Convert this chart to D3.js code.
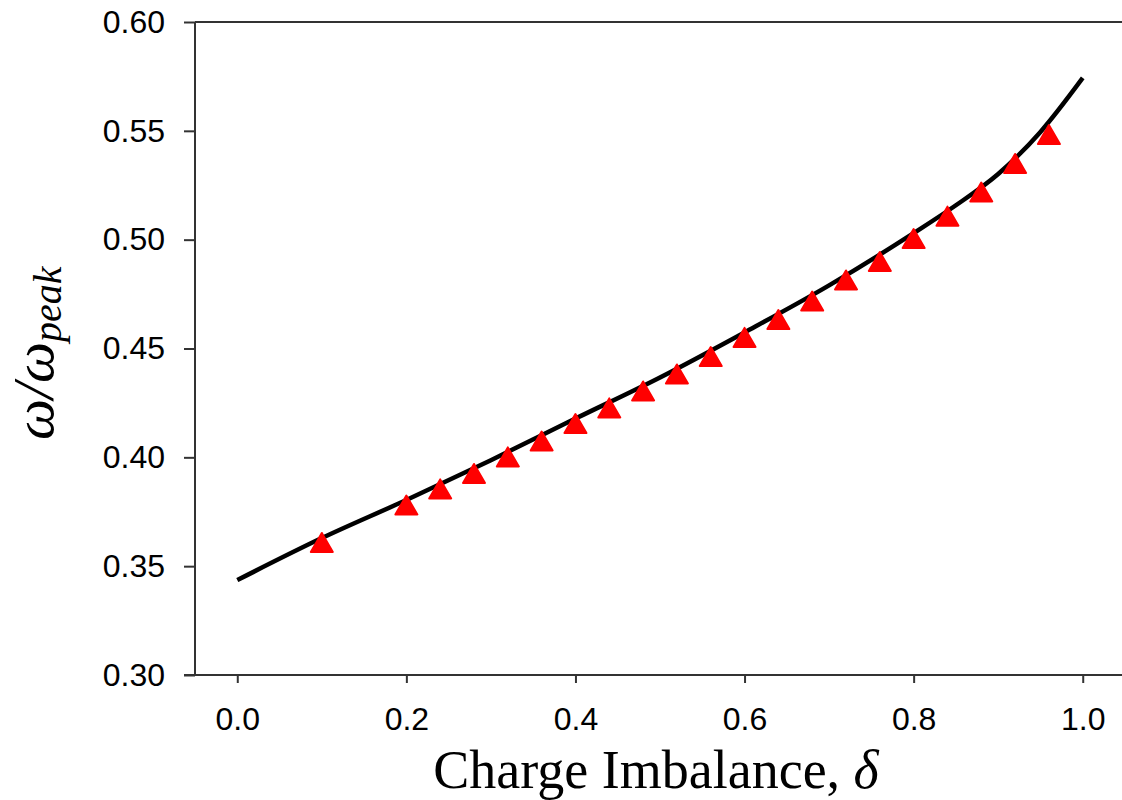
<!DOCTYPE html>
<html>
<head>
  <title>Charge Imbalance</title>
  <script src="https://d3js.org/d3.v7.min.js"></script>
  <style>
    body { margin: 0; background: #fff; }
  </style>
</head>
<body>
  <div id="chart"></div>

  <script>
    // data
    const curveDelta = [0, 0.1, 0.2, 0.3, 0.4, 0.5, 0.6, 0.7, 0.8, 0.85, 0.9, 0.95, 1.0];
    const curveRatio = [0.3436, 0.3629, 0.3804, 0.3987, 0.4178, 0.4367, 0.4574, 0.479, 0.503, 0.5158, 0.5302, 0.5495, 0.5743];

    const pointDelta = [0.1, 0.2, 0.24, 0.28, 0.32, 0.36, 0.40, 0.44, 0.48, 0.52, 0.56,
                        0.60, 0.64, 0.68, 0.72, 0.76, 0.80, 0.84, 0.88, 0.92, 0.96];
    const pointRatio = [0.3609, 0.3781, 0.3855, 0.3926, 0.4002, 0.4075, 0.4155, 0.4227, 0.4305, 0.4383, 0.4463,
                        0.4551, 0.4633, 0.4718, 0.4815, 0.4900, 0.5005, 0.5108, 0.5219, 0.5350, 0.5483];

    const xTicks = [0.0, 0.2, 0.4, 0.6, 0.8, 1.0];
    const yTicks = [0.30, 0.35, 0.40, 0.45, 0.50, 0.55, 0.60];

    const width = 1122, height = 800;

    const svg = d3.select('#chart')
      .append('svg')
      .attr('width', width)
      .attr('height', height);

    // scales
    const x = d3.scaleLinear().domain([-0.05, 1.05]).range([195, 1125]);
    const y = d3.scaleLinear().domain([0.30, 0.60]).range([675, 22]);

    const axisColor = '#333';

    // frame: left and top lines
    svg.append('line')
      .attr('x1', x(-0.05)).attr('x2', x(-0.05))
      .attr('y1', y(0.30)).attr('y2', y(0.60))
      .attr('stroke', axisColor).attr('stroke-width', 2);
    svg.append('line')
      .attr('x1', x(-0.05)).attr('x2', x(1.05))
      .attr('y1', y(0.60)).attr('y2', y(0.60))
      .attr('stroke', axisColor).attr('stroke-width', 2);

    // y axis
    const yAxis = svg.append('g')
      .attr('transform', `translate(${x(-0.05)},0)`)
      .call(d3.axisLeft(y).tickValues(yTicks).tickFormat(d3.format('.2f')).tickSize(11).tickPadding(19));
    yAxis.select('.domain').remove();
    yAxis.selectAll('.tick line').attr('stroke', axisColor).attr('stroke-width', 2);
    yAxis.selectAll('.tick text')
      .attr('font-family', 'Liberation Sans, Arial, sans-serif')
      .attr('font-size', 32)
      .attr('fill', '#000');

    // x axis
    const xAxis = svg.append('g')
      .attr('transform', `translate(0,${y(0.30)})`)
      .call(d3.axisBottom(x).tickValues(xTicks).tickFormat(d3.format('.1f')).tickSize(8).tickPadding(24));
    xAxis.select('.domain')
      .attr('d', `M${x(-0.05) - 11},0H${x(1.05)}`)
      .attr('stroke', axisColor).attr('stroke-width', 2);
    xAxis.selectAll('.tick line').attr('stroke', axisColor).attr('stroke-width', 2);
    xAxis.selectAll('.tick text')
      .attr('font-family', 'Liberation Sans, Arial, sans-serif')
      .attr('font-size', 32)
      .attr('fill', '#000');

    // fitted curve
    const curveData = curveDelta.map((d, i) => ({ d, r: curveRatio[i] }));
    const line = d3.line()
      .x(p => x(p.d))
      .y(p => y(p.r))
      .curve(d3.curveMonotoneX);

    svg.append('path')
      .datum(curveData)
      .attr('d', line)
      .attr('fill', 'none')
      .attr('stroke', '#000')
      .attr('stroke-width', 4.5);

    // red triangle markers
    const triW = 22, triH = 19;
    const triPath = `M0,${-triH / 2}L${triW / 2},${triH / 2}L${-triW / 2},${triH / 2}Z`;
    const pointData = pointDelta.map((d, i) => ({ d, r: pointRatio[i] }));

    svg.append('g')
      .selectAll('path')
      .data(pointData)
      .join('path')
      .attr('transform', p => `translate(${x(p.d)},${y(p.r)})`)
      .attr('d', triPath)
      .attr('fill', '#ff0000')
      .attr('stroke', '#ff0000')
      .attr('stroke-width', 2)
      .attr('stroke-linejoin', 'round');

    // x title
    const xTitle = svg.append('text')
      .attr('x', 656)
      .attr('y', 788)
      .attr('text-anchor', 'middle')
      .attr('font-family', 'Liberation Serif, Times New Roman, serif')
      .attr('font-size', 54)
      .attr('fill', '#000');
    xTitle.append('tspan').text('Charge Imbalance, ');
    xTitle.append('tspan').attr('font-style', 'italic').text('δ');

    // y title
    const yTitle = svg.append('text')
      .attr('transform', 'translate(53,440) rotate(-90)')
      .attr('text-anchor', 'start')
      .attr('font-family', 'Liberation Serif, Times New Roman, serif')
      .attr('font-style', 'italic')
      .attr('font-size', 58)
      .attr('fill', '#000');
    yTitle.append('tspan').text('ω/ω');
    yTitle.append('tspan').attr('font-size', 40).attr('dy', 8).text('peak');
  </script>
</body>
</html>
